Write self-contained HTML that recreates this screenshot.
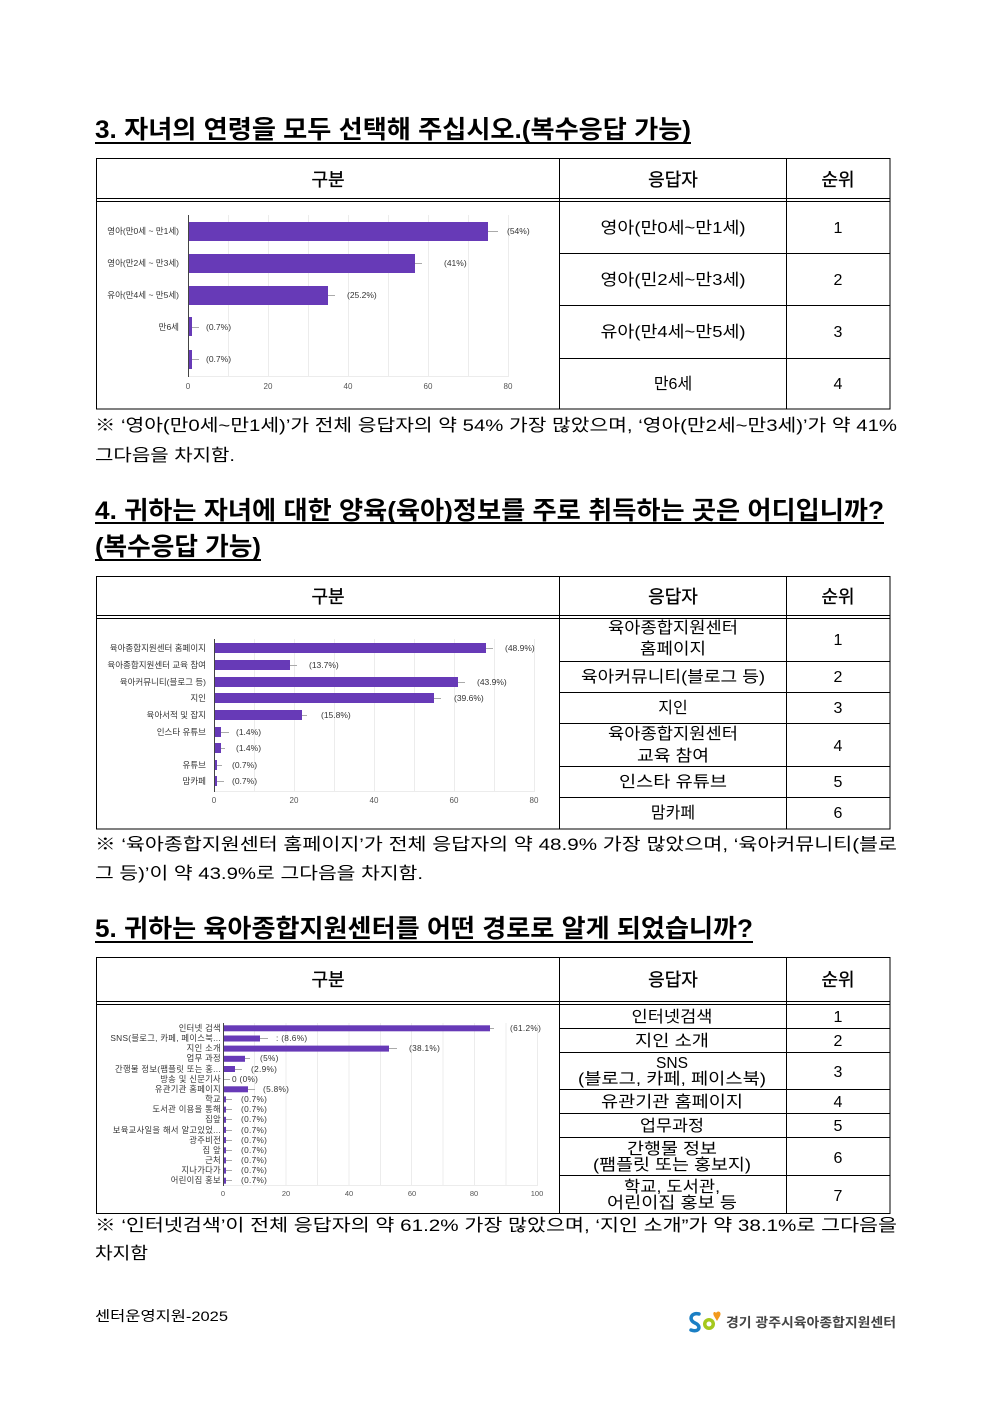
<!DOCTYPE html>
<html><head><meta charset="utf-8"><style>
html,body{margin:0;padding:0;background:#fff;}
svg{display:block;}
text{font-family:"Liberation Sans","Noto Sans CJK KR",sans-serif;}
.h{font-size:25px;font-weight:bold;fill:#000;}
.cap{font-size:17px;fill:#000;}
.th{font-size:18px;font-weight:normal;fill:#000;stroke:#000;stroke-width:0.35;}
.td{font-size:16px;fill:#000;}
.cl{font-size:8.5px;fill:#333;}
.tk{font-size:8px;fill:#555;}
.cl3{font-size:8.3px;fill:#333;letter-spacing:0.3px;}
.tk3{font-size:7.5px;fill:#555;}
</style></head><body>
<svg width="992" height="1403" viewBox="0 0 992 1403" xmlns="http://www.w3.org/2000/svg">
<rect width="992" height="1403" fill="#fff"/>

<!-- Section 3 -->
<text class="h" x="95" y="138" textLength="596" lengthAdjust="spacingAndGlyphs">3. 자녀의 연령을 모두 선택해 주십시오.(복수응답 가능)</text>
<line x1="95" y1="143" x2="691" y2="143" stroke="#000" stroke-width="2"/>

<g stroke="#000" stroke-width="1" fill="none">
<rect x="96.5" y="158.5" width="793.5" height="250.5"/>
<line x1="96" y1="198.5" x2="890" y2="198.5"/>
<line x1="96" y1="201.5" x2="890" y2="201.5"/>
<line x1="559.5" y1="158" x2="559.5" y2="409"/>
<line x1="786.5" y1="158" x2="786.5" y2="409"/>
<line x1="559" y1="253.5" x2="890" y2="253.5"/>
<line x1="559" y1="305.5" x2="890" y2="305.5"/>
<line x1="559" y1="358.5" x2="890" y2="358.5"/>
</g>
<text class="th" x="328" y="186" text-anchor="middle">구분</text>
<text class="th" x="673" y="186" text-anchor="middle">응답자</text>
<text class="th" x="838" y="186" text-anchor="middle">순위</text>
<text class="td" x="673" y="233" text-anchor="middle" textLength="145" lengthAdjust="spacingAndGlyphs">영아(만0세~만1세)</text>
<text class="td" x="673" y="285" text-anchor="middle" textLength="145" lengthAdjust="spacingAndGlyphs">영아(민2세~만3세)</text>
<text class="td" x="673" y="337" text-anchor="middle" textLength="145" lengthAdjust="spacingAndGlyphs">유아(만4세~만5세)</text>
<text class="td" x="673" y="389" text-anchor="middle">만6세</text>
<text class="td" x="838" y="233" text-anchor="middle">1</text>
<text class="td" x="838" y="285" text-anchor="middle">2</text>
<text class="td" x="838" y="337" text-anchor="middle">3</text>
<text class="td" x="838" y="389" text-anchor="middle">4</text>

<!-- Chart 1 -->
<g stroke="#ececec" stroke-width="1">
<line x1="228.5" y1="215" x2="228.5" y2="376"/><line x1="268.5" y1="215" x2="268.5" y2="376"/>
<line x1="308.5" y1="215" x2="308.5" y2="376"/><line x1="348.5" y1="215" x2="348.5" y2="376"/>
<line x1="388.5" y1="215" x2="388.5" y2="376"/><line x1="428.5" y1="215" x2="428.5" y2="376"/>
<line x1="468.5" y1="215" x2="468.5" y2="376"/><line x1="508.5" y1="215" x2="508.5" y2="376"/>
<line x1="188" y1="376.5" x2="509" y2="376.5"/>
</g>
<g fill="#673ab7">
<rect x="188" y="222" width="300" height="19"/>
<rect x="188" y="254" width="227" height="19"/>
<rect x="188" y="286" width="140" height="19"/>
<rect x="188" y="317" width="4" height="19"/>
<rect x="188" y="350" width="4" height="19"/>
</g>
<g stroke="#aaa" stroke-width="1">
<line x1="488" y1="231.5" x2="498" y2="231.5"/>
<line x1="415" y1="263.5" x2="422" y2="263.5"/>
<line x1="328" y1="295.5" x2="335" y2="295.5"/>
<line x1="192" y1="327.5" x2="199" y2="327.5"/>
<line x1="192" y1="359.5" x2="199" y2="359.5"/>
</g>
<line x1="188.5" y1="215" x2="188.5" y2="377" stroke="#444" stroke-width="1"/>
<text class="cl" x="507" y="234">(54%)</text>
<text class="cl" x="444" y="266">(41%)</text>
<text class="cl" x="347" y="298">(25.2%)</text>
<text class="cl" x="206" y="330">(0.7%)</text>
<text class="cl" x="206" y="362">(0.7%)</text>
<text class="cl" x="179" y="234" text-anchor="end">영아(만0세 ~ 만1세)</text>
<text class="cl" x="179" y="266" text-anchor="end">영아(만2세 ~ 만3세)</text>
<text class="cl" x="179" y="298" text-anchor="end">유아(만4세 ~ 만5세)</text>
<text class="cl" x="179" y="330" text-anchor="end">만6세</text>
<text class="tk" x="188" y="389" text-anchor="middle">0</text>
<text class="tk" x="268" y="389" text-anchor="middle">20</text>
<text class="tk" x="348" y="389" text-anchor="middle">40</text>
<text class="tk" x="428" y="389" text-anchor="middle">60</text>
<text class="tk" x="508" y="389" text-anchor="middle">80</text>

<text class="cap" x="95" y="431" textLength="802" lengthAdjust="spacingAndGlyphs">※ ‘영아(만0세~만1세)’가 전체 응답자의 약 54% 가장 많았으며, ‘영아(만2세~만3세)’가 약 41%</text>
<text class="cap" x="95" y="461" textLength="140" lengthAdjust="spacingAndGlyphs">그다음을 차지함.</text>

<!-- Section 4 -->
<text class="h" x="95" y="519" textLength="789" lengthAdjust="spacingAndGlyphs">4. 귀하는 자녀에 대한 양육(육아)정보를 주로 취득하는 곳은 어디입니까?</text>
<line x1="95" y1="523" x2="884" y2="523" stroke="#000" stroke-width="2"/>
<text class="h" x="95" y="555" textLength="166" lengthAdjust="spacingAndGlyphs">(복수응답 가능)</text>
<line x1="95" y1="560" x2="261" y2="560" stroke="#000" stroke-width="2"/>

<g stroke="#000" stroke-width="1" fill="none">
<rect x="96.5" y="576.5" width="793.5" height="252.5"/>
<line x1="96" y1="615.5" x2="890" y2="615.5"/>
<line x1="96" y1="618.5" x2="890" y2="618.5"/>
<line x1="559.5" y1="576" x2="559.5" y2="829"/>
<line x1="786.5" y1="576" x2="786.5" y2="829"/>
<line x1="559" y1="661.5" x2="890" y2="661.5"/>
<line x1="559" y1="692.5" x2="890" y2="692.5"/>
<line x1="559" y1="723.5" x2="890" y2="723.5"/>
<line x1="559" y1="766.5" x2="890" y2="766.5"/>
<line x1="559" y1="797.5" x2="890" y2="797.5"/>
</g>
<text class="th" x="328" y="603" text-anchor="middle">구분</text>
<text class="th" x="673" y="603" text-anchor="middle">응답자</text>
<text class="th" x="838" y="603" text-anchor="middle">순위</text>
<text class="td" x="673" y="633" text-anchor="middle" textLength="130" lengthAdjust="spacingAndGlyphs">육아종합지원센터</text>
<text class="td" x="673" y="654" text-anchor="middle" textLength="66" lengthAdjust="spacingAndGlyphs">홈페이지</text>
<text class="td" x="673" y="682" text-anchor="middle" textLength="184" lengthAdjust="spacingAndGlyphs">육아커뮤니티(블로그 등)</text>
<text class="td" x="673" y="713" text-anchor="middle">지인</text>
<text class="td" x="673" y="739" text-anchor="middle" textLength="130" lengthAdjust="spacingAndGlyphs">육아종합지원센터</text>
<text class="td" x="673" y="761" text-anchor="middle" textLength="72" lengthAdjust="spacingAndGlyphs">교육 참여</text>
<text class="td" x="673" y="787" text-anchor="middle" textLength="108" lengthAdjust="spacingAndGlyphs">인스타 유튜브</text>
<text class="td" x="673" y="818" text-anchor="middle">맘카페</text>
<text class="td" x="838" y="645" text-anchor="middle">1</text>
<text class="td" x="838" y="682" text-anchor="middle">2</text>
<text class="td" x="838" y="713" text-anchor="middle">3</text>
<text class="td" x="838" y="751" text-anchor="middle">4</text>
<text class="td" x="838" y="787" text-anchor="middle">5</text>
<text class="td" x="838" y="818" text-anchor="middle">6</text>

<!-- Chart 2 -->
<g stroke="#ececec" stroke-width="1">
<line x1="254.5" y1="639" x2="254.5" y2="791"/><line x1="294.5" y1="639" x2="294.5" y2="791"/>
<line x1="334.5" y1="639" x2="334.5" y2="791"/><line x1="374.5" y1="639" x2="374.5" y2="791"/>
<line x1="414.5" y1="639" x2="414.5" y2="791"/><line x1="454.5" y1="639" x2="454.5" y2="791"/>
<line x1="494.5" y1="639" x2="494.5" y2="791"/><line x1="534.5" y1="639" x2="534.5" y2="791"/>
<line x1="214" y1="791.5" x2="535" y2="791.5"/>
</g>
<g fill="#673ab7">
<rect x="214" y="643" width="272" height="10"/>
<rect x="214" y="660" width="76" height="10"/>
<rect x="214" y="677" width="244" height="10"/>
<rect x="214" y="693" width="220" height="10"/>
<rect x="214" y="710" width="88" height="10"/>
<rect x="214" y="727" width="7" height="10"/>
<rect x="214" y="743" width="7" height="10"/>
<rect x="214" y="760" width="3" height="10"/>
<rect x="214" y="776" width="3" height="10"/>
</g>
<g stroke="#aaa" stroke-width="1">
<line x1="486" y1="648.5" x2="493" y2="648.5"/>
<line x1="290" y1="665.5" x2="297" y2="665.5"/>
<line x1="458" y1="682.5" x2="465" y2="682.5"/>
<line x1="434" y1="698.5" x2="441" y2="698.5"/>
<line x1="302" y1="715.5" x2="307" y2="715.5"/>
<line x1="221" y1="732.5" x2="229" y2="732.5"/>
<line x1="221" y1="748.5" x2="225" y2="748.5"/>
<line x1="217" y1="765.5" x2="222" y2="765.5"/>
<line x1="217" y1="781.5" x2="224" y2="781.5"/>
</g>
<line x1="214.5" y1="639" x2="214.5" y2="792" stroke="#444" stroke-width="1"/>
<text class="cl" x="505" y="651">(48.9%)</text>
<text class="cl" x="309" y="668">(13.7%)</text>
<text class="cl" x="477" y="685">(43.9%)</text>
<text class="cl" x="454" y="701">(39.6%)</text>
<text class="cl" x="321" y="718">(15.8%)</text>
<text class="cl" x="236" y="735">(1.4%)</text>
<text class="cl" x="236" y="751">(1.4%)</text>
<text class="cl" x="232" y="768">(0.7%)</text>
<text class="cl" x="232" y="784">(0.7%)</text>
<text class="cl" x="206" y="651" text-anchor="end">육아종합지원센터 홈페이지</text>
<text class="cl" x="206" y="668" text-anchor="end">육아종합지원센터 교육 참여</text>
<text class="cl" x="206" y="685" text-anchor="end">육아커뮤니티(블로그 등)</text>
<text class="cl" x="206" y="701" text-anchor="end">지인</text>
<text class="cl" x="206" y="718" text-anchor="end">육아서적 및 잡지</text>
<text class="cl" x="206" y="735" text-anchor="end">인스타 유튜브</text>
<text class="cl" x="206" y="768" text-anchor="end">유튜브</text>
<text class="cl" x="206" y="784" text-anchor="end">맘카페</text>
<text class="tk" x="214" y="803" text-anchor="middle">0</text>
<text class="tk" x="294" y="803" text-anchor="middle">20</text>
<text class="tk" x="374" y="803" text-anchor="middle">40</text>
<text class="tk" x="454" y="803" text-anchor="middle">60</text>
<text class="tk" x="534" y="803" text-anchor="middle">80</text>

<text class="cap" x="95" y="850" textLength="802" lengthAdjust="spacingAndGlyphs">※ ‘육아종합지원센터 홈페이지’가 전체 응답자의 약 48.9% 가장 많았으며, ‘육아커뮤니티(블로</text>
<text class="cap" x="95" y="879" textLength="328" lengthAdjust="spacingAndGlyphs">그 등)’이 약 43.9%로 그다음을 차지함.</text>

<!-- Section 5 -->
<text class="h" x="95" y="937" textLength="658" lengthAdjust="spacingAndGlyphs">5. 귀하는 육아종합지원센터를 어떤 경로로 알게 되었습니까?</text>
<line x1="95" y1="942" x2="753" y2="942" stroke="#000" stroke-width="2"/>

<g stroke="#000" stroke-width="1" fill="none">
<rect x="96.5" y="957.5" width="793.5" height="256"/>
<line x1="96" y1="1001.5" x2="890" y2="1001.5"/>
<line x1="96" y1="1004.5" x2="890" y2="1004.5"/>
<line x1="559.5" y1="957" x2="559.5" y2="1214"/>
<line x1="786.5" y1="957" x2="786.5" y2="1214"/>
<line x1="559" y1="1028.5" x2="890" y2="1028.5"/>
<line x1="559" y1="1052.5" x2="890" y2="1052.5"/>
<line x1="559" y1="1089.5" x2="890" y2="1089.5"/>
<line x1="559" y1="1113.5" x2="890" y2="1113.5"/>
<line x1="559" y1="1137.5" x2="890" y2="1137.5"/>
<line x1="559" y1="1175.5" x2="890" y2="1175.5"/>
</g>
<text class="th" x="328" y="986" text-anchor="middle">구분</text>
<text class="th" x="673" y="986" text-anchor="middle">응답자</text>
<text class="th" x="838" y="986" text-anchor="middle">순위</text>
<text class="td" x="672" y="1022" text-anchor="middle" textLength="81" lengthAdjust="spacingAndGlyphs">인터넷검색</text>
<text class="td" x="672" y="1046" text-anchor="middle" textLength="74" lengthAdjust="spacingAndGlyphs">지인 소개</text>
<text class="td" x="672" y="1068" text-anchor="middle" textLength="32" lengthAdjust="spacingAndGlyphs">SNS</text>
<text class="td" x="672" y="1084" text-anchor="middle" textLength="188" lengthAdjust="spacingAndGlyphs">(블로그, 카페, 페이스북)</text>
<text class="td" x="672" y="1107" text-anchor="middle" textLength="142" lengthAdjust="spacingAndGlyphs">유관기관 홈페이지</text>
<text class="td" x="672" y="1131" text-anchor="middle" textLength="64" lengthAdjust="spacingAndGlyphs">업무과정</text>
<text class="td" x="672" y="1154" text-anchor="middle" textLength="90" lengthAdjust="spacingAndGlyphs">간행물 정보</text>
<text class="td" x="672" y="1170" text-anchor="middle" textLength="158" lengthAdjust="spacingAndGlyphs">(팸플릿 또는 홍보지)</text>
<text class="td" x="672" y="1192" text-anchor="middle" textLength="96" lengthAdjust="spacingAndGlyphs">학교, 도서관,</text>
<text class="td" x="672" y="1208" text-anchor="middle" textLength="130" lengthAdjust="spacingAndGlyphs">어린이집 홍보 등</text>
<text class="td" x="838" y="1022" text-anchor="middle">1</text>
<text class="td" x="838" y="1046" text-anchor="middle">2</text>
<text class="td" x="838" y="1077" text-anchor="middle">3</text>
<text class="td" x="838" y="1107" text-anchor="middle">4</text>
<text class="td" x="838" y="1131" text-anchor="middle">5</text>
<text class="td" x="838" y="1163" text-anchor="middle">6</text>
<text class="td" x="838" y="1201" text-anchor="middle">7</text>

<!-- Chart 3 -->
<g stroke="#ececec" stroke-width="1">
<line x1="254.5" y1="1023" x2="254.5" y2="1185"/><line x1="286" y1="1023" x2="286" y2="1185"/>
<line x1="317.5" y1="1023" x2="317.5" y2="1185"/><line x1="349" y1="1023" x2="349" y2="1185"/>
<line x1="380.5" y1="1023" x2="380.5" y2="1185"/><line x1="411.5" y1="1023" x2="411.5" y2="1185"/>
<line x1="443" y1="1023" x2="443" y2="1185"/><line x1="474.5" y1="1023" x2="474.5" y2="1185"/>
<line x1="506" y1="1023" x2="506" y2="1185"/><line x1="537.5" y1="1023" x2="537.5" y2="1185"/>
<line x1="223" y1="1185.5" x2="538" y2="1185.5"/>
</g>
<g fill="#673ab7">
<rect x="223" y="1025.3" width="267" height="6"/>
<rect x="223" y="1035.5" width="37" height="6"/>
<rect x="223" y="1045.6" width="166" height="6"/>
<rect x="223" y="1055.8" width="22" height="6"/>
<rect x="223" y="1066" width="12" height="6"/>
<rect x="223" y="1086.3" width="25" height="6"/>
<rect x="223" y="1096.4" width="3" height="6"/>
<rect x="223" y="1106.6" width="3" height="6"/>
<rect x="223" y="1116.8" width="3" height="6"/>
<rect x="223" y="1126.9" width="3" height="6"/>
<rect x="223" y="1137.1" width="3" height="6"/>
<rect x="223" y="1147.3" width="3" height="6"/>
<rect x="223" y="1157.4" width="3" height="6"/>
<rect x="223" y="1167.6" width="3" height="6"/>
<rect x="223" y="1177.7" width="3" height="6"/>
</g>
<g stroke="#aaa" stroke-width="1">
<line x1="490" y1="1028.5" x2="494" y2="1028.5"/>
<line x1="260" y1="1038.5" x2="268" y2="1038.5"/>
<line x1="389" y1="1048.5" x2="397" y2="1048.5"/>
<line x1="245" y1="1058.5" x2="250" y2="1058.5"/>
<line x1="235" y1="1069.5" x2="242" y2="1069.5"/>
<line x1="223" y1="1079.5" x2="230" y2="1079.5"/>
<line x1="248" y1="1089.5" x2="255" y2="1089.5"/>
<line x1="226" y1="1099.5" x2="232" y2="1099.5"/>
<line x1="226" y1="1109.5" x2="232" y2="1109.5"/>
<line x1="226" y1="1119.5" x2="232" y2="1119.5"/>
<line x1="226" y1="1130.5" x2="232" y2="1130.5"/>
<line x1="226" y1="1140.5" x2="232" y2="1140.5"/>
<line x1="226" y1="1150.5" x2="232" y2="1150.5"/>
<line x1="226" y1="1160.5" x2="232" y2="1160.5"/>
<line x1="226" y1="1170.5" x2="232" y2="1170.5"/>
<line x1="226" y1="1180.5" x2="232" y2="1180.5"/>
</g>
<line x1="223.5" y1="1023" x2="223.5" y2="1186" stroke="#444" stroke-width="1"/>
<text class="cl3" x="510" y="1031">(61.2%)</text>
<text class="cl3" x="276" y="1041">: (8.6%)</text>
<text class="cl3" x="409" y="1051">(38.1%)</text>
<text class="cl3" x="260" y="1061">(5%)</text>
<text class="cl3" x="251" y="1072">(2.9%)</text>
<text class="cl3" x="232" y="1082">0 (0%)</text>
<text class="cl3" x="263" y="1092">(5.8%)</text>
<text class="cl3" x="241" y="1102">(0.7%)</text>
<text class="cl3" x="241" y="1112">(0.7%)</text>
<text class="cl3" x="241" y="1122">(0.7%)</text>
<text class="cl3" x="241" y="1133">(0.7%)</text>
<text class="cl3" x="241" y="1143">(0.7%)</text>
<text class="cl3" x="241" y="1153">(0.7%)</text>
<text class="cl3" x="241" y="1163">(0.7%)</text>
<text class="cl3" x="241" y="1173">(0.7%)</text>
<text class="cl3" x="241" y="1183">(0.7%)</text>
<text class="cl3" x="221" y="1031" text-anchor="end">인터넷 검색</text>
<text class="cl3" x="221" y="1041" text-anchor="end">SNS(블로그, 카페, 페이스북...</text>
<text class="cl3" x="221" y="1051" text-anchor="end">지인 소개</text>
<text class="cl3" x="221" y="1061" text-anchor="end">업무 과정</text>
<text class="cl3" x="221" y="1072" text-anchor="end">간행물 정보(팸플릿 또는 홍...</text>
<text class="cl3" x="221" y="1082" text-anchor="end">방송 및 신문기사</text>
<text class="cl3" x="221" y="1092" text-anchor="end">유관기관 홈페이지</text>
<text class="cl3" x="221" y="1102" text-anchor="end">학교</text>
<text class="cl3" x="221" y="1112" text-anchor="end">도서관 이용을 통해</text>
<text class="cl3" x="221" y="1122" text-anchor="end">집앞</text>
<text class="cl3" x="221" y="1133" text-anchor="end">보육교사일을 해서 알고있었...</text>
<text class="cl3" x="221" y="1143" text-anchor="end">광주비전</text>
<text class="cl3" x="221" y="1153" text-anchor="end">집 앞</text>
<text class="cl3" x="221" y="1163" text-anchor="end">근처</text>
<text class="cl3" x="221" y="1173" text-anchor="end">지나가다가</text>
<text class="cl3" x="221" y="1183" text-anchor="end">어린이집 홍보</text>
<text class="tk3" x="223" y="1196" text-anchor="middle">0</text>
<text class="tk3" x="286" y="1196" text-anchor="middle">20</text>
<text class="tk3" x="349" y="1196" text-anchor="middle">40</text>
<text class="tk3" x="412" y="1196" text-anchor="middle">60</text>
<text class="tk3" x="474" y="1196" text-anchor="middle">80</text>
<text class="tk3" x="537" y="1196" text-anchor="middle">100</text>

<text class="cap" x="95" y="1231" textLength="802" lengthAdjust="spacingAndGlyphs">※ ‘인터넷검색’이 전체 응답자의 약 61.2% 가장 많았으며, ‘지인 소개”가 약 38.1%로 그다음을</text>
<text class="cap" x="95" y="1259" textLength="53" lengthAdjust="spacingAndGlyphs">차지함</text>

<!-- Footer -->
<text x="95" y="1321" font-size="14" fill="#000" textLength="133" lengthAdjust="spacingAndGlyphs">센터운영지원-2025</text>
<g>
<path d="M699 1314 C691 1312 688 1320 695 1323 C702 1326 699 1333 691 1330" fill="none" stroke="#1b7fc4" stroke-width="3.5" stroke-linecap="round"/>
<circle cx="709" cy="1324" r="6" fill="#a5c81d"/>
<circle cx="709" cy="1324" r="2.5" fill="#fff"/>
<path d="M716 1313 C718 1310 722 1312 720 1316 L717 1321 L714 1316 C712 1312 715 1311 716 1313 Z" fill="#f29a1e"/>
</g>
<text x="726" y="1327" font-size="13" font-weight="bold" fill="#444" textLength="170" lengthAdjust="spacingAndGlyphs">경기 광주시육아종합지원센터</text>
</svg>
</body></html>
